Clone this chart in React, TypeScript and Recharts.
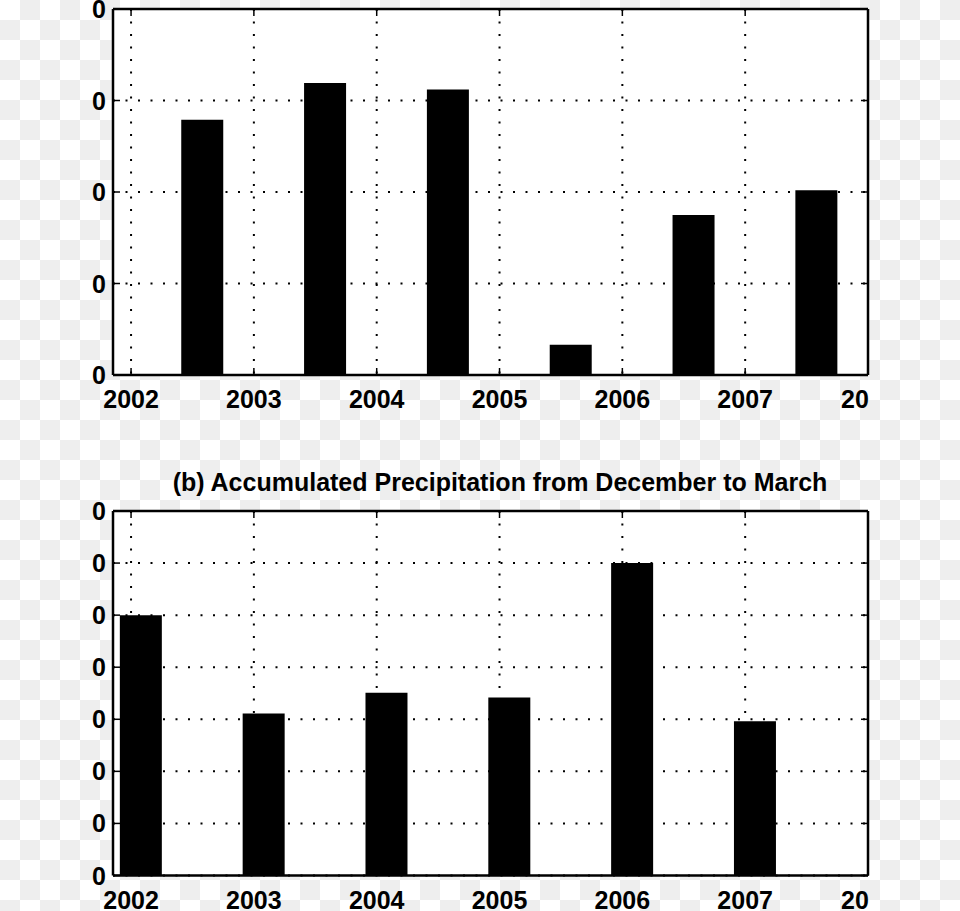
import React from 'react';
import { BarChart, Bar, XAxis, YAxis, CartesianGrid } from 'recharts';

// ---- data ----
const xTicks = [2002, 2003, 2004, 2005, 2006, 2007, 2008];
const xTickLabels = ['2002', '2003', '2004', '2005', '2006', '2007', '20'];
const xDomain = [2001.853, 2008];

// (a) top panel: bars centred a little after mid-year
const topBarX = [2002.583, 2003.583, 2004.583, 2005.583, 2006.583, 2007.583];
const topValues = [2.79, 3.19, 3.12, 0.33, 1.75, 2.02];
const topYTicks = [0, 1, 2, 3, 4];
const topYTickLabels = ['0', '0', '0', '0', '0'];

// (b) bottom panel: accumulated precipitation Dec-Mar
const bottomTitle = '(b) Accumulated Precipitation from December to March';
const bottomBarX = [2002.083, 2003.083, 2004.083, 2005.083, 2006.083, 2007.083];
const bottomValues = [5.0, 3.11, 3.51, 3.42, 6.0, 2.96];
const bottomYTicks = [0, 1, 2, 3, 4, 5, 6, 7];
const bottomYTickLabels = ['0', '0', '0', '0', '0', '0', '0', '0'];

const topData = topBarX.map((x, i) => ({ x, v: topValues[i] }));
const bottomData = bottomBarX.map((x, i) => ({ x, v: bottomValues[i] }));

const FONT = '"Liberation Sans", Arial, Helvetica, sans-serif';
const TICK_LEN = 7;

const BottomXTick = (props: any) => {
  const { x, y, payload } = props;
  const idx = xTicks.indexOf(payload.value);
  const label = xTickLabels[idx] ?? String(payload.value);
  const last = idx === xTicks.length - 1;
  return (
    <g>
      <line x1={x} x2={x} y1={y} y2={y - TICK_LEN} stroke="#000" strokeWidth={1.5} />
      <text
        x={last ? x - 27 : x}
        y={y + 33}
        textAnchor={last ? 'start' : 'middle'}
        fontFamily={FONT}
        fontWeight="bold"
        fontSize={25}
        fill="#000"
      >
        {label}
      </text>
    </g>
  );
};

const TopXTick = (props: any) => {
  const { x, y } = props;
  return <line x1={x} x2={x} y1={y} y2={y + TICK_LEN} stroke="#000" strokeWidth={1.5} />;
};

const makeLeftYTick = (ticks: number[], labels: string[]) => (props: any) => {
  const { x, y, payload } = props;
  const idx = ticks.indexOf(payload.value);
  return (
    <g>
      <line x1={x} x2={x + TICK_LEN} y1={y} y2={y} stroke="#000" strokeWidth={1.5} />
      <text
        x={x - 7}
        y={y + 9}
        textAnchor="end"
        fontFamily={FONT}
        fontWeight="bold"
        fontSize={25}
        fill="#000"
      >
        {labels[idx] ?? ''}
      </text>
    </g>
  );
};

const RightYTick = (props: any) => {
  const { x, y } = props;
  return <line x1={x} x2={x - TICK_LEN} y1={y} y2={y} stroke="#000" strokeWidth={1.5} />;
};

const TopLeftTick = makeLeftYTick(topYTicks, topYTickLabels);
const BottomLeftTick = makeLeftYTick(bottomYTicks, bottomYTickLabels);

const axisLine = { stroke: '#000', strokeWidth: 2.5 };

function Panel({
  data,
  yTicks,
  LeftTick,
  width,
  height,
  margin,
  xAxisHeight,
}: any) {
  const yDomain = [yTicks[0], yTicks[yTicks.length - 1]];
  return (
    <BarChart width={width} height={height} data={data} margin={margin}>
      <CartesianGrid
        fill="#fff"
        stroke="#000"
        strokeWidth={2}
        strokeDasharray="2 10.5"
        horizontalValues={yTicks}
        verticalValues={xTicks}
      />
      <XAxis
        dataKey="x"
        type="number"
        domain={xDomain}
        ticks={xTicks}
        allowDataOverflow
        interval={0}
        height={xAxisHeight}
        tickSize={0}
        tickMargin={0}
        tickLine={false}
        axisLine={axisLine}
        tick={<BottomXTick />}
      />
      <XAxis
        xAxisId="top"
        orientation="top"
        dataKey="x"
        type="number"
        domain={xDomain}
        ticks={xTicks}
        allowDataOverflow
        interval={0}
        height={1}
        tickSize={0}
        tickMargin={0}
        tickLine={false}
        axisLine={axisLine}
        tick={<TopXTick />}
      />
      <YAxis
        type="number"
        domain={yDomain}
        ticks={yTicks}
        allowDataOverflow
        interval={0}
        width={113}
        tickSize={0}
        tickMargin={0}
        tickLine={false}
        axisLine={axisLine}
        tick={<LeftTick />}
      />
      <YAxis
        yAxisId="right"
        orientation="right"
        type="number"
        domain={yDomain}
        ticks={yTicks}
        allowDataOverflow
        interval={0}
        width={1}
        tickSize={0}
        tickMargin={0}
        tickLine={false}
        axisLine={axisLine}
        tick={<RightYTick />}
      />
      <Bar dataKey="v" fill="#000" barSize={42} isAnimationActive={false} />
    </BarChart>
  );
}

export default function App() {
  return (
    <div
      style={{
        position: 'absolute',
        left: 0,
        top: 0,
        width: 960,
        height: 911,
        overflow: 'hidden',
        background: 'repeating-conic-gradient(#eeeeee 0% 25%, #ffffff 0% 50%) 0 0 / 40px 40px',
      }}
    >
      <div style={{ position: 'absolute', left: 0, top: 0 }}>
        <Panel
          data={topData}
          yTicks={topYTicks}
          LeftTick={TopLeftTick}
          width={960}
          height={450}
          margin={{ top: 8, right: 91, bottom: 0, left: 0 }}
          xAxisHeight={75}
        />
      </div>
      <svg
        width={960}
        height={60}
        style={{ position: 'absolute', left: 0, top: 450 }}
      >
        <text
          x={500}
          y={41}
          textAnchor="middle"
          fontFamily={FONT}
          fontWeight="bold"
          fontSize={25}
          fill="#000"
        >
          {bottomTitle}
        </text>
      </svg>
      <div style={{ position: 'absolute', left: 0, top: 450 }}>
        <Panel
          data={bottomData}
          yTicks={bottomYTicks}
          LeftTick={BottomLeftTick}
          width={960}
          height={461}
          margin={{ top: 60, right: 91, bottom: 0, left: 0 }}
          xAxisHeight={35.5}
        />
      </div>
    </div>
  );
}
